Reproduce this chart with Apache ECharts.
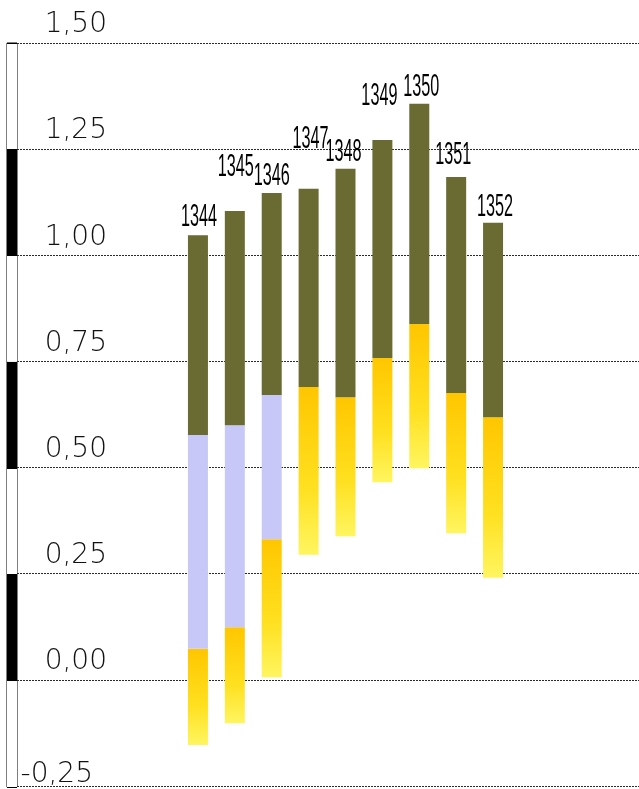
<!DOCTYPE html>
<html>
<head>
<meta charset="utf-8">
<script src="https://cdn.jsdelivr.net/npm/echarts@6/dist/echarts.min.js"></script>
<style>
html,body{margin:0;padding:0;background:#fff;}
#c{width:639px;height:789px;}
</style>
</head>
<body>
<div id="c"></div>
<script>
// ---- data ----
const years = ['1344','1345','1346','1347','1348','1349','1350','1351','1352'];
const lowVals = [-0.151, -0.100, 0.008, 0.296, 0.340, 0.467, 0.500, 0.347, 0.242];
const yellowTops = [0.075, 0.126, 0.333, 0.691, 0.667, 0.759, 0.839, 0.677, 0.620];
const lavenderTops = [0.578, 0.601, 0.672, null, null, null, null, null, null];
const topVals = [1.048, 1.105, 1.147, 1.157, 1.204, 1.272, 1.357, 1.185, 1.077];
const yTicks = [-0.25, 0, 0.25, 0.5, 0.75, 1, 1.25, 1.5];

// ---- derived stacking segments ----
const baseSeg = lowVals.slice();
const yellowSeg = yellowTops.map((v, i) => +(v - lowVals[i]).toFixed(4));
const lavSeg = lavenderTops.map((v, i) => v == null ? 0 : +(v - yellowTops[i]).toFixed(4));
const oliveSeg = topVals.map((v, i) => +(v - (lavenderTops[i] == null ? yellowTops[i] : lavenderTops[i])).toFixed(4));

// label lift above bar tops (style)
const labelLift = [18, 44, 17, 50, 17, 44, 16, 22, 16];
const labelDx = [1, 1, 0, 2, -2, -3, 2, -3, 2];

const yMin = yTicks[0], yMax = yTicks[yTicks.length - 1];
const chart = echarts.init(document.getElementById('c'), null, {renderer: 'canvas'});

const labelFont = '"DejaVu Sans", sans-serif';
const option = {
  backgroundColor: '#fff',
  animation: false,
  grid: [
    {left: 17, right: 0, top: 43, bottom: 2},
    {left: 179.5, width: 332, top: 43, bottom: 2},
    {left: 7, width: 10, top: 43, bottom: 2, show: true, borderColor: '#000', borderWidth: 1}
  ],
  xAxis: [
    {type: 'category', gridIndex: 0, show: false, data: ['']},
    {type: 'category', gridIndex: 1, show: false, data: years},
    {type: 'category', gridIndex: 2, show: false, data: ['']}
  ],
  yAxis: [
    {
      type: 'value', gridIndex: 0, min: yMin, max: yMax, interval: 0.25,
      axisLine: {show: false}, axisTick: {show: false},
      splitLine: {show: true, lineStyle: {color: '#2a2a2a', width: 1, type: [2, 1]}},
      axisLabel: {
        show: true, margin: -90, align: 'right', verticalAlign: 'bottom',
        formatter: function (v) {
          const s = v.toFixed(2).replace('.', ',');
          return v < 0 ? '{n|' + s + '}' : '{p|' + s + '}';
        },
        rich: {
          p: {fontFamily: labelFont, fontSize: 28, fontWeight: 200, color: '#111', lineHeight: 30, padding: [0, 0, 6, 0]},
          n: {fontFamily: labelFont, fontSize: 28, fontWeight: 200, color: '#111', lineHeight: 22, padding: [0, 14, 0, 0]}
        }
      }
    },
    {type: 'value', gridIndex: 1, min: yMin, max: yMax, interval: 0.25, show: false, splitLine: {show: false}},
    {
      type: 'value', gridIndex: 2, min: yMin, max: yMax, interval: 0.25,
      axisLine: {show: false}, axisTick: {show: false}, axisLabel: {show: false},
      splitLine: {show: true, lineStyle: {color: '#000', width: 1}},
      splitArea: {show: true, areaStyle: {color: ['#ffffff', '#000000']}}
    }
  ],
  series: [
    {
      type: 'bar', name: 'base', xAxisIndex: 1, yAxisIndex: 1, stack: 's', stackStrategy: 'all',
      barWidth: 20, data: baseSeg, itemStyle: {color: 'rgba(0,0,0,0)'}, silent: true
    },
    {
      type: 'bar', name: 'yellow', xAxisIndex: 1, yAxisIndex: 1, stack: 's', stackStrategy: 'all',
      barWidth: 20, data: yellowSeg,
      itemStyle: {
        color: new echarts.graphic.LinearGradient(0, 0, 0, 1, [
          {offset: 0, color: '#ffc600'},
          {offset: 0.6, color: '#ffe020'},
          {offset: 1, color: '#fff560'}
        ])
      }
    },
    {
      type: 'bar', name: 'lavender', xAxisIndex: 1, yAxisIndex: 1, stack: 's', stackStrategy: 'all',
      barWidth: 20, data: lavSeg, itemStyle: {color: '#c8c8f8'}
    },
    {
      type: 'bar', name: 'olive', xAxisIndex: 1, yAxisIndex: 1, stack: 's', stackStrategy: 'all',
      barWidth: 20, data: oliveSeg, itemStyle: {color: '#6a6a33'}
    },
    {
      type: 'custom', name: 'labels', xAxisIndex: 1, yAxisIndex: 1,
      data: topVals.map((v, i) => [i, v]),
      encode: {x: 0, y: 1},
      renderItem: function (params, api) {
        const i = params.dataIndex;
        const p = api.coord([api.value(0), api.value(1)]);
        return {
          type: 'text',
          x: p[0] + labelDx[i],
          y: p[1] - labelLift[i],
          scaleX: 0.9,
          scaleY: 1.75,
          style: {
            text: years[i],
            fill: '#000',
            font: '18px "Liberation Sans Narrow", "Liberation Sans", sans-serif',
            align: 'center', verticalAlign: 'middle',
            textAlign: 'center', textVerticalAlign: 'middle'
          }
        };
      }
    }
  ]
};
chart.setOption(option);
</script>
</body>
</html>
